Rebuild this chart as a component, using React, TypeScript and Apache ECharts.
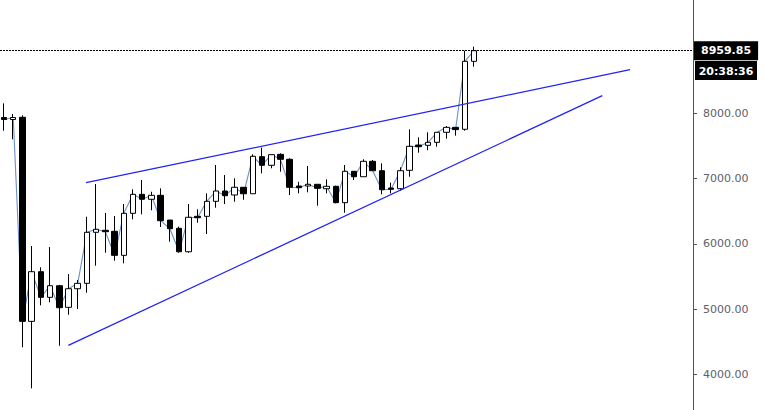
import React, { useEffect, useRef } from "react";
import * as echarts from "echarts";

const opens = [7935, 7905, 7939, 4811, 5572, 5179, 5357, 5026, 5311, 5394, 6176, 6207, 6191, 5823, 6467, 6758, 6682, 6743, 6364, 6237, 5878, 6421, 6421, 6651, 6809, 6748, 6866, 6767, 7335, 7203, 7371, 7295, 6886, 6886, 6912, 6844, 6881, 6630, 7111, 7028, 7264, 7120, 6855, 6844, 7126, 7514, 7509, 7555, 7709, 7785, 7755, 8797];
const closes = [7905, 7935, 4811, 5572, 5179, 5357, 5020, 5311, 5394, 6176, 6222, 6185, 5823, 6467, 6758, 6682, 6743, 6354, 6231, 5878, 6406, 6400, 6651, 6809, 6737, 6866, 6767, 7341, 7203, 7366, 7295, 6866, 6860, 6912, 6850, 6881, 6630, 7111, 7028, 7264, 7120, 6829, 6835, 7120, 7494, 7488, 7555, 7709, 7785, 7750, 8797, 8959.85];
const lows = [7733, 7601, 4413, 3784, 5057, 5103, 4437, 4912, 5000, 5250, 5664, 5863, 5740, 5700, 6375, 6452, 6513, 6257, 6032, 5863, 5863, 6323, 6150, 6553, 6610, 6645, 6675, 6767, 7080, 7157, 7105, 6748, 6774, 6789, 6584, 6774, 6620, 6476, 6977, 7028, 7120, 6758, 6774, 6813, 7028, 7396, 7433, 7488, 7611, 7657, 7733, 8714];
const highs = [8153, 7990, 7969, 5966, 5639, 5950, 5370, 5536, 5445, 6415, 6916, 6472, 6426, 6610, 6835, 6978, 6798, 6850, 6364, 6262, 6610, 6528, 6774, 7207, 7054, 7004, 6870, 7371, 7473, 7366, 7387, 7310, 6951, 7192, 6912, 6988, 6890, 7207, 7111, 7295, 7284, 7233, 6936, 7172, 7755, 7632, 7709, 7709, 7805, 7785, 8960, 9021];

// trendlines: [candle index, price]
const upperTrend = [[8.9, 6936], [67.93, 8668]];
const lowerTrend = [[6.98, 4443], [64.92, 8270]];

const lastPrice = 8959.85;
const countdownText = "20:38:36";

export default function App() {
  const ref = useRef<HTMLDivElement>(null);
  useEffect(() => {
    if (!ref.current) return;
    const chart = echarts.init(ref.current, undefined, { renderer: "svg" });
    const candleData = opens.map((o, i) => [i, o, closes[i], lows[i], highs[i]]);
    const closeLine = closes.map((c, i) => [i, c]);
    chart.setOption({
      animation: false,
      backgroundColor: "#ffffff",
      grid: { left: 0, right: 72, top: 0, bottom: 0 },
      xAxis: {
        type: "value",
        min: -0.434,
        max: 74.76,
        show: false,
        axisLine: { show: false, onZero: false },
        axisTick: { show: false },
        axisLabel: { show: false },
        splitLine: { show: false },
      },
      yAxis: {
        type: "value",
        position: "right",
        min: 3452,
        max: 9737,
        splitNumber: 6,
        splitLine: { show: false },
        axisLine: { show: true, onZero: false, lineStyle: { color: "#50535e", width: 1 } },
        axisTick: { show: true, inside: false, length: 4, lineStyle: { color: "#50535e" } },
        axisLabel: {
          showMinLabel: false,
          showMaxLabel: false,
          margin: 10,
          color: "#5d606b",
          fontSize: 11,
          fontFamily: "DejaVu Sans",
          formatter: (v: number) => (v > lastPrice - 200 ? "" : v.toFixed(2)),
        },
      },
      series: [
        {
          type: "line",
          data: closeLine,
          showSymbol: false,
          symbol: "none",
          z: 1,
          lineStyle: { color: "#6a92c8", width: 1.1 },
          markLine: {
            silent: true,
            symbol: ["none", "none"],
            lineStyle: { color: "#000000", type: [2, 1], width: 1 },
            label: {
              show: true,
              position: "end",
              distance: 1,
              formatter: () => lastPrice.toFixed(2),
              backgroundColor: "#000000",
              color: "#ffffff",
              fontSize: 11,
              fontWeight: "bold",
              fontFamily: "DejaVu Sans",
              padding: [4, 7, 4, 7],
            },
            data: [{ yAxis: lastPrice }],
          },
        },
        {
          type: "candlestick",
          data: candleData,
          encode: { x: 0, y: [1, 2, 3, 4] },
          barWidth: 6,
          z: 3,
          itemStyle: {
            color: "#ffffff",
            color0: "#000000",
            borderColor: "#000000",
            borderColor0: "#000000",
            borderWidth: 1,
          },
        },
        {
          type: "line",
          data: upperTrend,
          showSymbol: false,
          symbol: "none",
          z: 4,
          lineStyle: { color: "#2323f0", width: 1.3 },
        },
        {
          type: "line",
          data: lowerTrend,
          showSymbol: false,
          symbol: "none",
          z: 4,
          lineStyle: { color: "#2323f0", width: 1.3 },
        },
      ],
      graphic: [
        {
          type: "group",
          left: 695,
          top: 61,
          children: [
            { type: "rect", shape: { x: 0, y: 0, width: 62, height: 19 }, style: { fill: "#000000" } },
            {
              type: "text",
              x: 31,
              y: 10,
              style: {
                text: countdownText,
                fill: "#ffffff",
                font: "bold 11px 'DejaVu Sans'",
                align: "center",
                verticalAlign: "middle",
              },
            },
          ],
        },
      ],
    });
    return () => chart.dispose();
  }, []);
  return (
    <div
      ref={ref}
      style={{ position: "fixed", left: 0, top: 0, width: 765, height: 410, background: "#fff" }}
    />
  );
}
